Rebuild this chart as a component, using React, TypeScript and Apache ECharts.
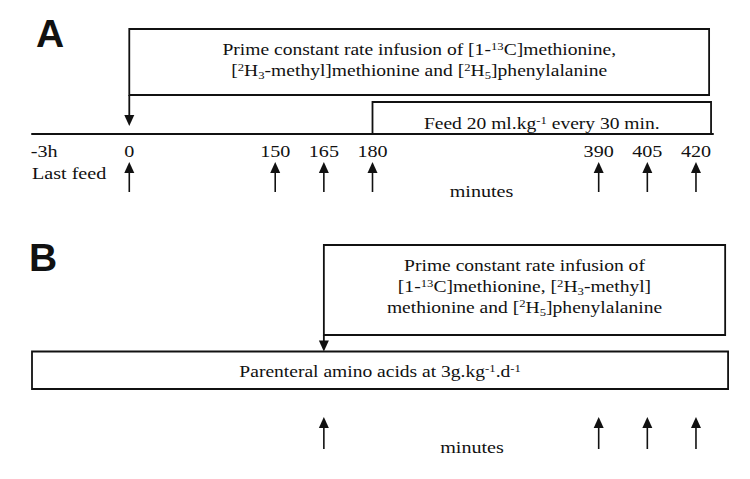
import React, { useEffect, useRef } from "react";
import * as echarts from "echarts";

// ---------------- data ----------------
const tickLabels = ["-3h", "0", "150", "165", "180", "390", "405", "420"];
const samplingMinutesA = [0, 150, 165, 180, 390, 405, 420];
const samplingMinutesB = [165, 390, 405, 420];
const infusionStartA = 0;
const feedStartA = 180;
const infusionStartB = 165;
const panelLabels = ["A", "B"];
const lastFeedLabel = "Last feed";
const axisTitle = "minutes";

const infusionTextA =
  "{n|Prime constant rate infusion of [1-}{sup|13}{n|C]methionine,}\n" +
  "{n|[}{sup|2}{n|H}{sub|3}{n|-methyl]methionine and [}{sup|2}{n|H}{sub|5}{n|]phenylalanine}";
const feedText = "{n|Feed 20 ml.kg}{sup|-1}{n| every 30 min.}";
const infusionTextB =
  "{n|Prime constant rate infusion of}\n" +
  "{n|[1-}{sup|13}{n|C]methionine, [}{sup|2}{n|H}{sub|3}{n|-methyl]}\n" +
  "{n|methionine and [}{sup|2}{n|H}{sub|5}{n|]phenylalanine}";
const parenteralText = "{n|Parenteral amino acids at 3g.kg}{sup|-1}{n|.d}{sup|-1}";

// ---------------- layout (schematic, not-to-scale time axis) ----------------
const SLOT: Record<string, number> = {
  "-3h": -1.75,
  "0": 0,
  "150": 3,
  "165": 4,
  "180": 5,
  "390": 9.65,
  "405": 10.65,
  "420": 11.65,
};
const slotOf = (m: number | string) => SLOT[String(m)];
const AXIS_MIN = -2;
const AXIS_MAX = 12;
const END_INFUSION_A = 11.92;
const END_FEED = 11.96;
const END_INFUSION_B = 12.25;
const PARENTERAL_START = -2;
const END_PARENTERAL = 12.31;

const INK = "#111111";
const LW = 1.8;
const SX = 1.15;
const SERIF = '"Liberation Serif", "Times New Roman", serif';
const BOX_FONT = `17px ${SERIF}`;
const SMALL_FONT = `11px ${SERIF}`;
const LABEL_FONT = `17.5px ${SERIF}`;
const PANEL_FONT = 'bold 39px "Liberation Sans", Arial, sans-serif';

const rich: any = {
  n: { font: BOX_FONT, fill: INK, lineHeight: 21 },
  sup: { font: SMALL_FONT, fill: INK, lineHeight: 21, padding: [0, 0, 7, 0] },
  sub: { font: SMALL_FONT, fill: INK, lineHeight: 21, padding: [9, 0, 0, 0] },
};

function upArrow(x: number, tip: number, bottom: number) {
  return [
    { type: "line", shape: { x1: x, y1: tip + 8, x2: x, y2: bottom }, style: { stroke: INK, lineWidth: 1.6 } },
    {
      type: "polygon",
      shape: { points: [[x, tip], [x - 5, tip + 11], [x + 5, tip + 11]] },
      style: { fill: INK },
    },
  ];
}

function downArrow(x: number, top: number, tip: number) {
  return [
    { type: "line", shape: { x1: x, y1: top, x2: x, y2: tip - 8 }, style: { stroke: INK, lineWidth: LW } },
    {
      type: "polygon",
      shape: { points: [[x, tip], [x - 5, tip - 11], [x + 5, tip - 11]] },
      style: { fill: INK },
    },
  ];
}

function textEl(text: string, x: number, y: number, align: string, font: string, withRich: boolean) {
  return {
    type: "text",
    x,
    y,
    scaleX: SX,
    style: {
      text,
      rich: withRich ? rich : undefined,
      font,
      fill: INK,
      align,
      verticalAlign: "middle",
      textAlign: align,
      textVerticalAlign: "middle",
    },
  };
}

function boxSeries(o: {
  grid: number;
  start: number;
  end: number;
  top: number;
  bottom: number;
  text: string;
  textY: number;
  arrowTip?: number;
}) {
  return {
    type: "custom",
    coordinateSystem: "cartesian2d",
    xAxisIndex: o.grid,
    yAxisIndex: o.grid,
    silent: true,
    data: [[o.start, o.end]],
    renderItem: (_p: any, api: any) => {
      const x0 = api.coord([api.value(0), 0])[0];
      const x1 = api.coord([api.value(1), 0])[0];
      const children: any[] = [
        {
          type: "rect",
          shape: { x: x0, y: o.top, width: x1 - x0, height: o.bottom - o.top },
          style: { fill: "transparent", stroke: INK, lineWidth: LW },
        },
        textEl(o.text, (x0 + x1) / 2, o.textY, "center", BOX_FONT, true),
      ];
      if (o.arrowTip != null) children.push(...downArrow(x0, o.bottom, o.arrowTip));
      return { type: "group", children };
    },
  };
}

function arrowSeries(grid: number, minutes: number[], tip: number, bottom: number) {
  return {
    type: "custom",
    coordinateSystem: "cartesian2d",
    xAxisIndex: grid,
    yAxisIndex: grid,
    silent: true,
    data: minutes.map((m) => [slotOf(m), 0]),
    renderItem: (_p: any, api: any) => {
      const x = api.coord([api.value(0), 0])[0];
      return { type: "group", children: upArrow(x, tip, bottom) };
    },
  };
}

const tickSeries = {
  type: "custom",
  coordinateSystem: "cartesian2d",
  xAxisIndex: 0,
  yAxisIndex: 0,
  silent: true,
  data: tickLabels.map((l) => [slotOf(l), 0]),
  renderItem: (p: any, api: any) => {
    const x = api.coord([api.value(0), 0])[0];
    return textEl(tickLabels[p.dataIndex], x, 151, "center", LABEL_FONT, false);
  },
};

const option: any = {
  animation: false,
  backgroundColor: "#ffffff",
  grid: [
    { left: 32, width: 681, top: 0, height: 134 },
    { left: 32, width: 681, top: 240, height: 239 },
  ],
  xAxis: [
    {
      type: "value",
      gridIndex: 0,
      min: AXIS_MIN,
      max: AXIS_MAX,
      position: "bottom",
      axisLine: { show: true, lineStyle: { color: INK, width: 2 } },
      axisTick: { show: false },
      axisLabel: { show: false },
      splitLine: { show: false },
    },
    {
      type: "value",
      gridIndex: 1,
      min: AXIS_MIN,
      max: AXIS_MAX,
      show: false,
      splitLine: { show: false },
    },
  ],
  yAxis: [
    { type: "value", gridIndex: 0, min: 0, max: 1, show: false, splitLine: { show: false } },
    { type: "value", gridIndex: 1, min: 0, max: 1, show: false, splitLine: { show: false } },
  ],
  graphic: [
    {
      type: "text",
      x: 36,
      y: 33,
      style: { text: panelLabels[0], font: PANEL_FONT, fill: INK, align: "left", verticalAlign: "middle", textAlign: "left", textVerticalAlign: "middle" },
    },
    {
      type: "text",
      x: 29,
      y: 257,
      style: { text: panelLabels[1], font: PANEL_FONT, fill: INK, align: "left", verticalAlign: "middle", textAlign: "left", textVerticalAlign: "middle" },
    },
    { ...textEl(lastFeedLabel, 32, 173, "left", LABEL_FONT, false) },
    { ...textEl(axisTitle, 481.5, 190.6, "center", LABEL_FONT, false) },
    { ...textEl(axisTitle, 472, 447, "center", LABEL_FONT, false) },
  ],
  series: [
    boxSeries({
      grid: 0,
      start: slotOf(infusionStartA),
      end: END_INFUSION_A,
      top: 29,
      bottom: 95,
      text: infusionTextA,
      textY: 59.8,
      arrowTip: 126,
    }),
    boxSeries({
      grid: 0,
      start: slotOf(feedStartA),
      end: END_FEED,
      top: 102,
      bottom: 134,
      text: feedText,
      textY: 123.3,
    }),
    tickSeries,
    arrowSeries(0, samplingMinutesA, 162, 192),
    boxSeries({
      grid: 1,
      start: slotOf(infusionStartB),
      end: END_INFUSION_B,
      top: 245,
      bottom: 335,
      text: infusionTextB,
      textY: 286.3,
      arrowTip: 351.5,
    }),
    boxSeries({
      grid: 1,
      start: PARENTERAL_START,
      end: END_PARENTERAL,
      top: 351.5,
      bottom: 389,
      text: parenteralText,
      textY: 371.3,
    }),
    arrowSeries(1, samplingMinutesB, 417, 449),
  ],
};

export default function App() {
  const ref = useRef<HTMLDivElement>(null);
  useEffect(() => {
    const chart = echarts.init(ref.current!, null, { renderer: "svg" });
    chart.setOption(option);
    return () => chart.dispose();
  }, []);
  return (
    <div
      ref={ref}
      style={{ position: "fixed", left: 0, top: 0, width: 750, height: 479, background: "#fff" }}
    />
  );
}
